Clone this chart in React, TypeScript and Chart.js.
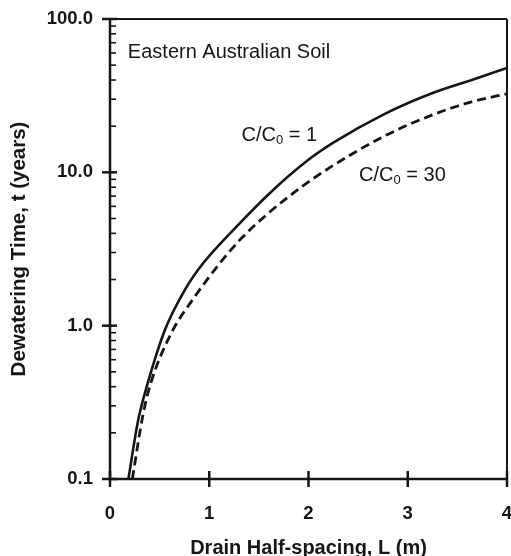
import React, { useEffect, useRef } from "react";
import { Chart, registerables } from "chart.js";

Chart.register(...registerables);

// Drain half-spacing L (m) and dewatering time t (years)
const solidL = [0.185, 0.285, 0.37, 0.554, 0.756, 0.94, 1.277, 1.612, 1.98, 2.25, 2.754, 3.257, 3.66, 4.0];
const solidT = [0.1, 0.244, 0.4, 0.94, 1.72, 2.56, 4.44, 7.34, 11.8, 15.6, 23.8, 33, 40.3, 48];

const dashedL = [0.225, 0.336, 0.42, 0.62, 0.84, 1.108, 1.327, 1.579, 1.814, 1.982, 2.25, 2.754, 3.257, 3.66, 4.0];
const dashedT = [0.1, 0.27, 0.44, 0.9, 1.5, 2.56, 3.73, 5.3, 7.06, 8.5, 11.1, 17.1, 23.8, 29, 32.5];

const xTicks = [0, 1, 2, 3, 4];
const yDecades = [0.1, 1, 10, 100];
const yMinorMultipliers = [2, 3, 4, 5, 6, 7, 8, 9];

const title = "Eastern Australian Soil";
const xTitle = "Drain Half-spacing, L (m)";
const yTitle = "Dewatering Time, t (years)";
const labelSolid = { pre: "C/C", sub: "0", post: " = 1", L: 1.325, t: 16.1 };
const labelDashed = { pre: "C/C", sub: "0", post: " = 30", L: 2.51, t: 8.74 };
const titlePos = { L: 0.18, t: 56 };

const FONT = '"Liberation Sans", Arial, Helvetica, sans-serif';
const INK = "#161616";

const framePlugin = {
  id: "frame",
  afterDraw(chart: any) {
    const { ctx, chartArea, scales } = chart;
    const { left, right, top, bottom } = chartArea;
    const x = scales.x;
    const y = scales.y;
    ctx.save();
    ctx.strokeStyle = INK;
    ctx.lineCap = "butt";

    // frame
    ctx.lineWidth = 2;
    ctx.beginPath();
    ctx.moveTo(left, top);
    ctx.lineTo(right, top);
    ctx.moveTo(right, top);
    ctx.lineTo(right, bottom);
    ctx.stroke();
    ctx.lineWidth = 2.5;
    ctx.beginPath();
    ctx.moveTo(left, top - 1);
    ctx.lineTo(left, bottom + 1);
    ctx.moveTo(left - 1, bottom);
    ctx.lineTo(right + 1, bottom);
    ctx.stroke();

    // y major ticks
    ctx.lineWidth = 2.5;
    for (const v of yDecades) {
      const py = y.getPixelForValue(v);
      ctx.beginPath();
      ctx.moveTo(left - 8, py);
      ctx.lineTo(left + 7, py);
      ctx.stroke();
    }
    // y minor ticks
    ctx.lineWidth = 1.6;
    for (const d of yDecades.slice(0, -1)) {
      for (const m of yMinorMultipliers) {
        const py = y.getPixelForValue(d * m);
        ctx.beginPath();
        ctx.moveTo(left, py);
        ctx.lineTo(left + 6, py);
        ctx.stroke();
      }
    }
    // x ticks
    ctx.lineWidth = 2.5;
    for (const v of xTicks) {
      const px = x.getPixelForValue(v);
      ctx.beginPath();
      ctx.moveTo(px, bottom - 8);
      ctx.lineTo(px, bottom + 8);
      ctx.stroke();
    }

    // annotations
    ctx.fillStyle = INK;
    ctx.textBaseline = "alphabetic";
    ctx.textAlign = "left";
    ctx.font = `20px ${FONT}`;
    ctx.fillText(title, x.getPixelForValue(titlePos.L), y.getPixelForValue(titlePos.t));

    const drawSub = (lab: any) => {
      let px = x.getPixelForValue(lab.L);
      const py = y.getPixelForValue(lab.t);
      ctx.font = `20px ${FONT}`;
      ctx.fillText(lab.pre, px, py);
      px += ctx.measureText(lab.pre).width;
      ctx.font = `13px ${FONT}`;
      ctx.fillText(lab.sub, px, py + 3);
      px += ctx.measureText(lab.sub).width;
      ctx.font = `20px ${FONT}`;
      ctx.fillText(lab.post, px, py);
    };
    drawSub(labelSolid);
    drawSub(labelDashed);
    ctx.restore();
  },
};

export default function App() {
  const ref = useRef<HTMLCanvasElement | null>(null);

  useEffect(() => {
    if (!ref.current) return;
    const chart = new Chart(ref.current, {
      type: "line",
      data: {
        datasets: [
          {
            label: "C/C0 = 1",
            data: solidL.map((L, i) => ({ x: L, y: solidT[i] })),
            borderColor: INK,
            borderWidth: 2.6,
            pointRadius: 0,
            cubicInterpolationMode: "monotone",
            fill: false,
          },
          {
            label: "C/C0 = 30",
            data: dashedL.map((L, i) => ({ x: L, y: dashedT[i] })),
            borderColor: INK,
            borderWidth: 2.8,
            borderDash: [9, 5],
            pointRadius: 0,
            cubicInterpolationMode: "monotone",
            fill: false,
          },
        ],
      },
      options: {
        animation: false,
        responsive: false,
        layout: { padding: { top: 19, right: 4, left: 0, bottom: 0 } },
        plugins: { legend: { display: false }, tooltip: { enabled: false } },
        scales: {
          x: {
            type: "linear",
            min: 0,
            max: 4,
            afterFit: (s: any) => {
              s.height = 77;
              s.paddingLeft = 0;
              s.paddingRight = 0;
            },
            afterBuildTicks: (s: any) => {
              s.ticks = xTicks.map((v) => ({ value: v }));
            },
            grid: { display: false, drawTicks: false },
            border: { display: false },
            ticks: {
              padding: 24,
              autoSkip: false,
              maxRotation: 0,
              color: INK,
              font: { family: FONT, size: 18.5, weight: "bold" },
              callback: (v: any) => String(v),
            },
            title: {
              display: true,
              text: xTitle,
              color: INK,
              font: { family: FONT, size: 20, weight: "bold" },
              padding: { top: 0, bottom: -4 },
            },
          },
          y: {
            type: "logarithmic",
            min: 0.1,
            max: 100,
            afterFit: (s: any) => {
              s.width = 110;
              s.paddingTop = 0;
              s.paddingBottom = 0;
            },
            afterBuildTicks: (s: any) => {
              s.ticks = yDecades.map((v) => ({ value: v }));
            },
            grid: { display: false, drawTicks: false },
            border: { display: false },
            ticks: {
              padding: 17,
              autoSkip: false,
              color: INK,
              font: { family: FONT, size: 18.5, weight: "bold" },
              callback: (v: any) => Number(v).toFixed(1),
            },
            title: {
              display: true,
              text: yTitle,
              color: INK,
              font: { family: FONT, size: 20.5, weight: "bold" },
              padding: { top: 7, bottom: 0 },
            },
          },
        },
      },
      plugins: [framePlugin],
    } as any);
    return () => chart.destroy();
  }, []);

  return (
    <div style={{ position: "absolute", left: 0, top: 0, width: 511, height: 556, background: "#fff" }}>
      <canvas ref={ref} width={511} height={556} />
    </div>
  );
}
